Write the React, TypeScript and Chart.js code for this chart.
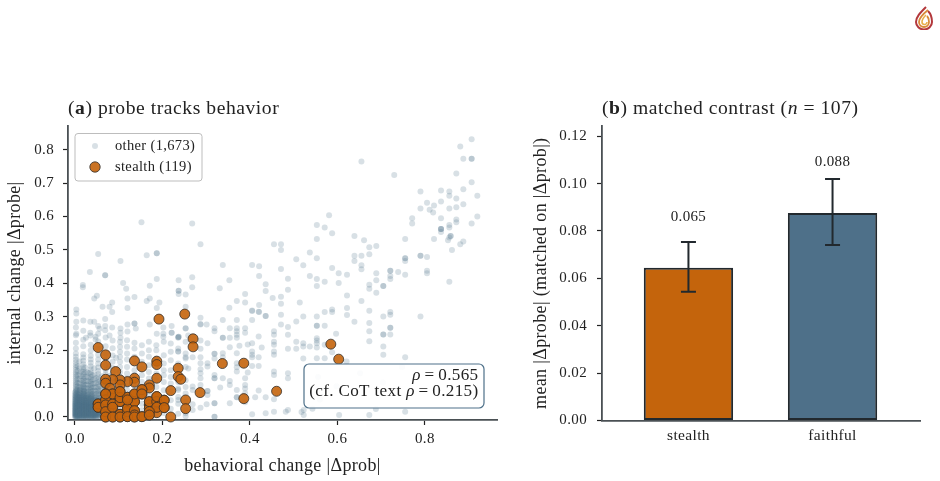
import React, { useEffect, useRef } from 'react';
import { Chart, registerables } from 'chart.js';

Chart.register(...registerables);

const SERIF = '"Liberation Serif", serif';
const INK = '#222222';
const SPINE = '#4a5054';
const STEEL = '#4e7089';
const RUST = '#c4640c';

// panel (a): points read one by one off the sparse part of the cloud
const otherSparse: [number, number][] = [
  [.907,.831],[.881,.810],[.888,.773],[.907,.773],[.907,.773],[.655,.765],[.730,.724],[.872,.729],[.907,.703],[.790,.675],
  [.837,.678],[.856,.675],[.856,.662],[.888,.682],[.920,.662],[.805,.641],[.837,.645],[.872,.654],[.821,.633],[.790,.624],
  [.811,.620],[.819,.612],[.856,.624],[.872,.628],[.888,.637],[.771,.595],[.771,.579],[.837,.595],[.920,.600],[.907,.579],
  [.872,.591],[.872,.583],[.856,.575],[.856,.567],[.837,.563],[.837,.563],[.837,.563],[.837,.554],[.581,.604],[.553,.575],
  [.571,.567],[.588,.550],[.553,.533],[.639,.542],[.661,.529],[.755,.533],[.821,.533],[.859,.542],[.859,.542],[.856,.537],
  [.853,.529],[.888,.525],[.881,.517],[.862,.500],[.673,.508],[.689,.512],[.537,.492],[.553,.475],[.639,.483],[.655,.483],
  [.673,.487],[.755,.475],[.755,.475],[.755,.467],[.790,.483],[.790,.483],[.805,.479],[.522,.454],[.639,.467],[.655,.454],
  [.655,.442],[.588,.446],[.721,.438],[.721,.438],[.739,.434],[.805,.438],[.805,.430],[.537,.422],[.553,.413],[.571,.405],
  [.553,.392],[.603,.430],[.622,.426],[.689,.430],[.721,.422],[.721,.413],[.755,.426],[.689,.409],[.673,.396],[.673,.384],
  [.705,.392],[.705,.392],[.603,.401],[.856,.405],[.689,.372],[.622,.364],[.655,.347],[.514,.343],[.622,.326],[.588,.322],
  [.588,.314],[.571,.314],[.673,.318],[.721,.314],[.721,.306],[.622,.305],[.522,.301],[.553,.301],[.705,.301],[.790,.301],
  [.152,.583],[.268,.579],[.287,.517],[.053,.488],[.164,.484],[.187,.490],[.187,.490],[.104,.467],[.034,.434],[.069,.424],
  [.069,.424],[.018,.395],[.018,.388],[.110,.401],[.117,.384],[.171,.393],[.187,.413],[.237,.409],[.268,.418],[.268,.388],
  [.237,.378],[.237,.378],[.237,.368],[.253,.367],[.050,.363],[.044,.355],[.120,.355],[.136,.359],[.171,.355],[.164,.347],
  [.193,.343],[.085,.343],[.063,.330],[.079,.330],[.120,.326],[.187,.326],[.253,.330],[.003,.322],[.003,.310],[.085,.314],
  [.003,.285],[.019,.289],[.035,.285],[.044,.285],[.069,.293],[.287,.297],[.136,.280],[.136,.280],[.053,.272],[.056,.264],
  [.069,.272],[.069,.260],[.085,.268],[.104,.265],[.104,.252],[.120,.277],[.120,.256],[.139,.265],[.171,.277],[.202,.268],
  [.221,.272],[.253,.265],[.287,.277],[.301,.277],[.003,.249],[.035,.252],[.035,.244],[.053,.249],[.025,.237],[.047,.240],
  [.047,.232],[.079,.244],[.104,.237],[.187,.249],[.202,.249],[.202,.240],[.221,.252],[.221,.252],[.237,.240],[.237,.240],
  [.259,.244],[.287,.278],[.338,.290],[.370,.290],[.405,.290],[.420,.315],[.405,.317],[.436,.302],[.471,.277],[.506,.286],
  [.487,.269],[.319,.266],[.319,.257],[.354,.266],[.370,.266],[.370,.257],[.370,.246],[.389,.266],[.389,.252],[.455,.257],
  [.455,.246],[.455,.225],[.455,.216],[.487,.246],[.420,.241],[.338,.237],[.338,.237],[.354,.237],[.370,.237],[.287,.229],
  [.303,.221],[.287,.204],[.236,.238],[.236,.238],[.253,.266],[.354,.209],[.395,.217],[.405,.221],[.427,.208],[.376,.213],
  [.455,.196],[.455,.186],[.487,.204],[.506,.225],[.506,.204],[.522,.221],[.522,.175],[.236,.196],[.236,.196],[.319,.189],
  [.319,.189],[.338,.191],[.338,.179],[.370,.191],[.405,.196],[.405,.186],[.405,.179],[.420,.179],[.253,.179],[.269,.179],
  [.287,.179],[.303,.161],[.287,.161],[.319,.175],[.319,.126],[.319,.116],[.319,.116],[.370,.161],[.370,.149],[.370,.136],
  [.405,.153],[.420,.153],[.395,.133],[.455,.136],[.455,.126],[.487,.131],[.487,.116],[.303,.151],[.259,.145],[.287,.143],
  [.287,.131],[.338,.116],[.354,.108],[.354,.096],[.389,.116],[.389,.096],[.269,.091],[.269,.081],[.287,.116],[.287,.096],
  [.303,.078],[.303,.078],[.303,.066],[.332,.088],[.370,.081],[.370,.059],[.370,.059],[.389,.085],[.389,.071],[.420,.079],
  [.436,.059],[.455,.053],[.412,.059],[.319,.041],[.319,.041],[.301,.038],[.354,.041],[.389,.044],[.487,.021],[.455,.016],
  [.287,.028],[.269,.038],[.269,.021],[.319,.001],[.319,.001],[.253,.011],[.253,.002],[.405,.008],[.436,.011],[.236,.081],
  [.236,.051],[.455,.517],[.471,.517],[.471,.500],[.506,.472],[.338,.455],[.405,.455],[.421,.451],[.471,.443],[.421,.422],
  [.353,.409],[.487,.414],[.436,.397],[.331,.385],[.436,.377],[.487,.381],[.389,.368],[.370,.347],[.389,.343],[.452,.356],
  [.471,.360],[.471,.339],[.421,.335],[.353,.327],[.405,.319],[.421,.314],[.436,.302],[.471,.306],[.639,.285],[.673,.281],
  [.553,.273],[.553,.273],[.571,.273],[.721,.267],[.721,.267],[.673,.257],[.705,.247],[.705,.247],[.721,.247],[.597,.249],
  [.553,.236],[.553,.229],[.553,.221],[.673,.227],[.571,.216],[.522,.211],[.537,.211],[.553,.208],[.705,.211],[.588,.194],
  [.705,.186],[.553,.176],[.571,.176],[.755,.179],[.621,.166],[.523,.021],[.523,.006],[.543,.025],[.604,.006],[.673,.006],
  [.755,.016],[.688,.024],[.482,.016],[.518,.015],[.556,.120],[.598,.092],[.652,.131],[.704,.103],[.748,.150],[.560,.052],
];

// the dense part of the cloud falls in columns of nearly equal x
const otherColumnX = [
  .002, .006, .010, .014, .019, .023, .027, .031, .036, .040, .044, .048, .053, .057, .061, .066, .070, .078, .086, .094,
  .103, .119, .136, .153, .169, .186, .203, .219, .236, .253,
];
const otherColumnY: number[][] = [
  [.000,.002,.004,.006,.008,.010,.012,.015,.017,.019,.021,.024,.026,.028,.031,.033,.035,.038,.041,.043,.046,.049,.052,.055,.058,.061,.064,.068,.072,.076,.080,.084,.089,.094,.099,.104,.110,.116,.122,.128,.134,.141,.148,.155,.163,.171,.180,.190,.205,.222,.245,.268],
  [.001,.005,.009,.013,.018,.022,.027,.032,.037,.042,.048,.054,.060,.067,.075,.083,.092,.102,.113,.125,.138,.152],
  [.001,.004,.007,.010,.013,.016,.020,.023,.027,.030,.034,.037,.041,.045,.050,.055,.060,.066,.073,.081,.090,.101,.114,.129,.146,.166],
  [.002,.006,.011,.015,.020,.025,.029,.034,.039,.044,.050,.056,.063,.071,.079,.088,.098,.109,.122,.136],
  [.000,.003,.005,.008,.011,.013,.016,.018,.021,.024,.026,.029,.032,.035,.037,.040,.043,.047,.051,.054,.058,.062,.066,.070,.075,.079,.083,.088,.093,.098,.103,.109,.115,.121,.128,.135,.142,.150,.158,.168,.178,.188,.212,.231,.258],
  [.001,.005,.010,.014,.019,.024,.028,.033,.038,.043,.049,.055,.062,.069,.077,.086,.096,.107,.119,.133,.148],
  [.002,.006,.009,.012,.016,.019,.023,.027,.031,.034,.038,.042,.047,.052,.057,.063,.070,.078,.087,.097,.108,.121,.135],
  [.003,.008,.012,.017,.022,.026,.031,.036,.041,.047,.053,.060,.068,.076,.085,.095,.106,.118,.132],
  [.001,.003,.006,.009,.012,.014,.017,.020,.023,.025,.028,.031,.034,.037,.041,.044,.048,.052,.056,.060,.064,.069,.074,.079,.084,.089,.095,.101,.107,.113,.120,.127,.134,.143,.152,.162,.172,.183,.199,.216],
  [.002,.007,.012,.016,.021,.026,.031,.036,.042,.048,.054,.061,.069,.078,.088,.099,.111,.125],
  [.003,.007,.011,.015,.019,.024,.028,.033,.038,.043,.049,.055,.062,.070,.079,.089,.100,.113,.128,.146],
  [.001,.006,.011,.016,.021,.026,.032,.038,.044,.051,.059,.068,.078,.089,.102,.117],
  [.002,.005,.008,.011,.014,.018,.021,.025,.028,.032,.036,.040,.044,.049,.054,.059,.065,.071,.077,.083,.090,.097,.104,.112,.120,.129,.138,.148,.160,.172,.186,.204,.226],
  [.002,.008,.014,.020,.026,.033,.040,.048,.057,.067,.079,.092,.107],
  [.004,.010,.016,.023,.030,.038,.047,.058,.071,.086,.103,.122],
  [.001,.009,.017,.026,.036,.047,.060,.075,.092,.111],
  [.003,.008,.013,.019,.025,.031,.038,.045,.052,.060,.068,.077,.086,.095,.105,.116,.128,.141,.156,.172,.190,.212,.238],
  [.005,.015,.027,.041,.057,.076,.098,.123,.151],
  [.004,.011,.019,.027,.036,.046,.056,.067,.078,.090,.103,.116,.131,.147,.165,.184,.206,.229],
  [.008,.022,.039,.059,.083,.110,.141,.177],
  [.012,.030,.050,.070,.085,.100,.120,.135,.150,.165,.180,.195,.210,.225],
  [.010,.028,.045,.065,.080,.095,.115,.130,.150,.172,.190,.210,.230],
  [.015,.035,.055,.075,.095,.125,.140,.160,.180,.205,.222],
  [.020,.040,.060,.085,.105,.125,.145,.165,.190,.215],
  [.010,.030,.050,.070,.090,.115,.135,.155,.180,.200,.225],
  [.020,.040,.065,.090,.110,.130,.150,.175,.200,.215],
  [.012,.035,.060,.080,.105,.125,.140,.160,.185,.225],
  [.025,.050,.075,.100,.120,.140,.170,.195,.220],
  [.010,.040,.060,.085,.105,.130,.160,.205],
  [.020,.045,.070,.090,.110,.150,.175,.190,.225],
];

// second layer over the darkest corner, where the cloud is close to solid
const otherCoreX = [.000, .004, .008, .012, .016, .021, .025, .029, .033, .038, .042, .046, .050];
const otherCoreY: number[][] = [
  [.001,.004,.008,.011,.015,.019,.022,.026,.030,.034,.038,.042,.047,.052,.058,.065,.073],
  [.000,.003,.006,.010,.013,.017,.021,.024,.028,.032,.036,.040,.044,.049,.055,.062,.070,.079],
  [.002,.005,.009,.012,.016,.020,.023,.027,.031,.035,.039,.043,.048,.053,.059,.067],
  [.001,.004,.007,.011,.014,.018,.022,.025,.029,.033,.037,.041,.046,.051,.057,.064,.072,.083],
  [.000,.003,.006,.009,.013,.017,.020,.024,.028,.032,.036,.040,.045,.050,.056,.063],
  [.002,.005,.008,.012,.015,.019,.023,.026,.030,.034,.038,.042,.047,.053,.060,.068,.077],
  [.001,.004,.007,.011,.014,.018,.021,.025,.029,.033,.037,.041,.046,.052,.058],
  [.000,.003,.006,.010,.013,.017,.020,.024,.028,.032,.036,.041,.046,.052,.059,.067],
  [.002,.005,.008,.012,.015,.019,.022,.026,.030,.034,.039,.044,.050,.056],
  [.001,.004,.007,.011,.014,.018,.021,.025,.029,.033,.038,.043,.049,.056,.064],
  [.000,.003,.006,.010,.013,.017,.021,.025,.029,.034,.039,.045,.051],
  [.002,.005,.009,.013,.016,.020,.024,.028,.033,.038,.044,.051],
  [.001,.004,.008,.012,.016,.020,.025,.030,.035,.041,.048],
];

const stealthPoints: [number, number][] = [
  [.192,.293],[.251,.308],[.270,.234],[.270,.210],[.585,.218],[.603,.173],[.053,.208],[.070,.186],[.070,.155],[.093,.136],
  [.136,.168],[.153,.150],[.187,.167],[.187,.157],[.236,.146],[.236,.121],[.242,.113],[.337,.160],[.386,.161],[.461,.077],
  [.386,.055],[.286,.073],[.219,.079],[.253,.051],[.253,.025],[.219,.000],[.187,.116],[.170,.096],[.170,.087],[.153,.082],
  [.153,.069],[.136,.116],[.136,.104],[.120,.106],[.103,.111],[.103,.096],[.086,.112],[.070,.113],[.070,.101],[.080,.086],
  [.070,.069],[.086,.069],[.086,.056],[.103,.076],[.103,.058],[.120,.059],[.120,.051],[.136,.069],[.136,.046],[.070,.051],
  [.053,.039],[.053,.029],[.070,.036],[.070,.016],[.086,.039],[.086,.029],[.103,.046],[.077,.017],[.120,.026],[.120,.016],
  [.136,.019],[.136,.006],[.170,.046],[.170,.036],[.170,.026],[.170,.016],[.170,.006],[.187,.061],[.187,.046],[.187,.029],
  [.187,.013],[.204,.050],[.204,.028],[.103,.008],[.103,.000],[.086,.000],[.070,.000],[.120,.001],[.136,.000],[.153,.001],
  [.053,.039],[.053,.029],[.070,.051],[.070,.036],[.086,.039],[.086,.069],[.103,.046],[.103,.058],[.103,.008],[.120,.059],
  [.120,.016],[.120,.026],[.136,.046],[.136,.019],[.136,.069],[.153,.082],[.153,.069],[.170,.036],[.170,.026],[.170,.046],
  [.187,.046],[.187,.029],[.070,.069],[.070,.016],[.086,.029],[.103,.076],[.120,.051],[.136,.006],[.170,.016],[.187,.061],
  [.204,.050],[.204,.028],[.070,.000],[.086,.000],[.103,.000],[.120,.001],[.136,.000],[.153,.001],[.170,.006],
];

const legendLabels = ['other (1,673)', 'stealth (119)'];
const xTicksA = [0, 0.2, 0.4, 0.6, 0.8];
const yTicksA = [0, 0.1, 0.2, 0.3, 0.4, 0.5, 0.6, 0.7, 0.8];

// panel (b)
const barLabels = ['stealth', 'faithful'];
const barValues = [0.0645, 0.0876];
const barErrLow = [0.0543, 0.0741];
const barErrHigh = [0.0753, 0.1019];
const barNotes = ['0.065', '0.088'];
const barNoteGap = 0.0198;
const yTicksB = [0, 0.02, 0.04, 0.06, 0.08, 0.1, 0.12];

type Run = { text: string; bold?: boolean; italic?: boolean };

function fontOf(run: Run, size: number) {
  return `${run.italic ? 'italic ' : ''}${run.bold ? 'bold ' : ''}${size}px ${SERIF}`;
}

function runsWidth(ctx: CanvasRenderingContext2D, runs: Run[], size: number) {
  let w = 0;
  for (const r of runs) {
    ctx.font = fontOf(r, size);
    w += ctx.measureText(r.text).width;
  }
  return w;
}

function drawRuns(ctx: CanvasRenderingContext2D, runs: Run[], x: number, y: number, size: number) {
  ctx.textAlign = 'left';
  ctx.textBaseline = 'alphabetic';
  for (const r of runs) {
    ctx.font = fontOf(r, size);
    ctx.fillText(r.text, x, y);
    x += ctx.measureText(r.text).width;
  }
}

function roundBox(ctx: CanvasRenderingContext2D, x: number, y: number, w: number, h: number, r: number) {
  ctx.beginPath();
  ctx.roundRect(x, y, w, h, r);
}

const spacingPlugin = {
  id: 'spacing',
  beforeDraw(chart: any) {
    chart.ctx.letterSpacing = '0.35px';
  },
};

function titlePlugin(runs: Run[]) {
  return {
    id: 'panelTitle',
    afterDraw(chart: any) {
      const { ctx, chartArea } = chart;
      ctx.save();
      ctx.fillStyle = INK;
      ctx.letterSpacing = '0.55px';
      drawRuns(ctx, runs, chartArea.left, 114, 19.6);
      ctx.restore();
    },
  };
}

const scatterExtras = {
  id: 'scatterExtras',
  afterDatasetsDraw(chart: any) {
    const ctx: CanvasRenderingContext2D = chart.ctx;
    ctx.save();
    // legend box
    ctx.fillStyle = 'rgba(255,255,255,0.85)';
    ctx.strokeStyle = '#bdbdbd';
    ctx.lineWidth = 1;
    roundBox(ctx, 75, 133.5, 127, 47.5, 3);
    ctx.fill();
    ctx.stroke();
    ctx.beginPath();
    ctx.arc(95, 146, 3, 0, Math.PI * 2);
    ctx.fillStyle = 'rgba(78,112,137,0.22)';
    ctx.fill();
    ctx.beginPath();
    ctx.arc(95, 167, 5.2, 0, Math.PI * 2);
    ctx.fillStyle = 'rgba(196,100,12,0.9)';
    ctx.fill();
    ctx.strokeStyle = '#33302c';
    ctx.lineWidth = 0.8;
    ctx.stroke();
    ctx.fillStyle = INK;
    ctx.font = `14.5px ${SERIF}`;
    ctx.textAlign = 'left';
    ctx.textBaseline = 'alphabetic';
    ctx.fillText(legendLabels[0], 115, 150);
    ctx.fillText(legendLabels[1], 115, 171);
    // annotation box
    ctx.fillStyle = 'rgba(255,255,255,0.9)';
    ctx.strokeStyle = STEEL;
    ctx.lineWidth = 1.2;
    roundBox(ctx, 304, 364, 180, 44, 5);
    ctx.fill();
    ctx.stroke();
    ctx.fillStyle = INK;
    const line1: Run[] = [{ text: 'ρ', italic: true }, { text: '\u2009=\u20090.565' }];
    const line2: Run[] = [{ text: '(cf. CoT text ' }, { text: 'ρ', italic: true }, { text: '\u2009=\u20090.215)' }];
    drawRuns(ctx, line1, 478.5 - runsWidth(ctx, line1, 17.1), 380, 17.1);
    drawRuns(ctx, line2, 478.5 - runsWidth(ctx, line2, 17.1), 396, 17.1);
    ctx.restore();
  },
};

const barExtras = {
  id: 'barExtras',
  afterDatasetsDraw(chart: any) {
    const { ctx, scales } = chart;
    ctx.save();
    ctx.strokeStyle = '#22292e';
    ctx.lineWidth = 2;
    ctx.fillStyle = INK;
    ctx.font = `15px ${SERIF}`;
    ctx.textAlign = 'center';
    ctx.textBaseline = 'alphabetic';
    barLabels.forEach((_, i) => {
      const x = scales.x.getPixelForValue(i);
      const lo = scales.y.getPixelForValue(barErrLow[i]);
      const hi = scales.y.getPixelForValue(barErrHigh[i]);
      ctx.beginPath();
      ctx.moveTo(x, lo);
      ctx.lineTo(x, hi);
      ctx.moveTo(x - 7.5, lo);
      ctx.lineTo(x + 7.5, lo);
      ctx.moveTo(x - 7.5, hi);
      ctx.lineTo(x + 7.5, hi);
      ctx.stroke();
      ctx.fillText(barNotes[i], x, scales.y.getPixelForValue(barValues[i] + barNoteGap));
    });
    ctx.restore();
  },
};

function axisBase(tickLength: number) {
  return {
    border: { display: true, color: SPINE, width: 1.8 },
    grid: { drawOnChartArea: false, drawTicks: tickLength > 0, tickLength, tickColor: '#222222', tickWidth: 1.2 },
  };
}

const ScatterPanel: React.FC = () => {
  const canvasRef = useRef<HTMLCanvasElement | null>(null);

  useEffect(() => {
    const ctx = canvasRef.current?.getContext('2d');
    if (!ctx) return;

    const otherData = otherSparse.map(([x, y]) => ({ x, y }));
    otherColumnX.forEach((x, i) => {
      otherColumnY[i].forEach((y) => otherData.push({ x, y }));
    });
    otherCoreX.forEach((x, i) => {
      otherCoreY[i].forEach((y) => otherData.push({ x, y }));
    });

    const chart = new Chart(ctx, {
      type: 'scatter',
      data: {
        datasets: [
          {
            label: 'other',
            data: otherData,
            order: 2,
            pointRadius: 3,
            pointBorderWidth: 0,
            pointBackgroundColor: 'rgba(78,112,137,0.22)',
            clip: false,
          },
          {
            label: 'stealth',
            data: stealthPoints.map(([x, y]) => ({ x, y })),
            order: 1,
            pointRadius: 5,
            pointBorderWidth: 0.8,
            pointBorderColor: '#33302c',
            pointBackgroundColor: 'rgba(196,100,12,0.9)',
            clip: false,
          },
        ],
      },
      options: {
        animation: false,
        responsive: false,
        devicePixelRatio: 1,
        layout: { padding: { top: 126, right: 13 } },
        plugins: { legend: { display: false }, tooltip: { enabled: false } },
        scales: {
          x: {
            type: 'linear',
            min: -0.016,
            max: 0.965,
            ...axisBase(5),
            afterBuildTicks: (s: any) => { s.ticks = xTicksA.map((value) => ({ value })); },
            afterFit: (s: any) => { s.height = 61; },
            ticks: { color: INK, font: { family: SERIF, size: 15 }, padding: 5, maxRotation: 0, callback: (v: any) => Number(v).toFixed(1) },
            title: { display: true, text: 'behavioral change |Δprob|', color: INK, font: { family: SERIF, size: 18 }, padding: { top: 0, bottom: 4 } },
          },
          y: {
            type: 'linear',
            min: -0.009,
            max: 0.871,
            ...axisBase(5),
            afterBuildTicks: (s: any) => { s.ticks = yTicksA.map((value) => ({ value })); },
            afterFit: (s: any) => { s.width = 68; },
            ticks: { color: INK, font: { family: SERIF, size: 15 }, padding: 9, callback: (v: any) => Number(v).toFixed(1) },
            title: { display: true, text: 'internal change |Δprobe|', color: INK, font: { family: SERIF, size: 18 }, padding: { top: 4, bottom: 0 } },
          },
        },
      },
      plugins: [
        spacingPlugin,
        scatterExtras,
        titlePlugin([{ text: '(' }, { text: 'a', bold: true }, { text: ') probe tracks behavior' }]),
      ],
    } as any);

    return () => {
      chart.destroy();
    };
  }, []);

  return <canvas ref={canvasRef} width={510} height={481} style={{ position: 'absolute', left: 0, top: 0 }}></canvas>;
};

const BarPanel: React.FC = () => {
  const canvasRef = useRef<HTMLCanvasElement | null>(null);

  useEffect(() => {
    const ctx = canvasRef.current?.getContext('2d');
    if (!ctx) return;

    const chart = new Chart(ctx, {
      type: 'bar',
      data: {
        datasets: [
          {
            data: barValues.map((y, x) => ({ x, y })),
            backgroundColor: [RUST, STEEL],
            borderColor: '#22292e',
            borderWidth: 2,
            borderSkipped: false,
            barPercentage: 0.62,
            categoryPercentage: 1,
          },
        ],
      },
      options: {
        animation: false,
        responsive: false,
        devicePixelRatio: 1,
        layout: { padding: { top: 126, right: 20 } },
        plugins: { legend: { display: false }, tooltip: { enabled: false } },
        scales: {
          x: {
            type: 'linear',
            offset: false,
            min: -0.6,
            max: 1.607,
            ...axisBase(0),
            afterBuildTicks: (s: any) => { s.ticks = barLabels.map((_, value) => ({ value })); },
            afterFit: (s: any) => { s.height = 60.5; },
            ticks: { color: INK, font: { family: SERIF, size: 15.5 }, padding: 6, maxRotation: 0, callback: (v: any) => barLabels[Number(v)] },
          },
          y: {
            type: 'linear',
            min: 0,
            max: 0.1243,
            ...axisBase(5),
            afterBuildTicks: (s: any) => { s.ticks = yTicksB.map((value) => ({ value })); },
            afterFit: (s: any) => { s.width = 82; },
            ticks: { color: INK, font: { family: SERIF, size: 15 }, padding: 10, callback: (v: any) => Number(v).toFixed(2) },
            title: { display: true, text: 'mean |Δprobe| (matched on |Δprob|)', color: INK, font: { family: SERIF, size: 18 }, padding: { top: 10, bottom: 0 } },
          },
        },
      },
      plugins: [
        spacingPlugin,
        barExtras,
        titlePlugin([
          { text: '(' }, { text: 'b', bold: true }, { text: ') matched contrast (' },
          { text: 'n', italic: true }, { text: ' = 107)' },
        ]),
      ],
    } as any);

    return () => {
      chart.destroy();
    };
  }, []);

  return <canvas ref={canvasRef} width={420} height={481} style={{ position: 'absolute', left: 520, top: 0 }}></canvas>;
};

const Logo: React.FC = () => (
  <svg width="20" height="26" viewBox="0 0 20 26" style={{ position: 'absolute', left: 914, top: 4 }} aria-hidden="true">
    <path d="M12 3 C6 9 2 13 2 18 a8 7.5 0 0 0 16 0 C18 13 16 9 14 7" fill="none" stroke="#b3383c" strokeWidth="2" />
    <path d="M14 6 C9 10 5 14 5 18 a5 5 0 0 0 10 0 C15 15 14 13 13 12" fill="none" stroke="#d98a3a" strokeWidth="1.8" />
    <path d="M12 11 C10 13 8 15 8 18 a2.4 2.4 0 0 0 5 0" fill="none" stroke="#e8b04a" strokeWidth="1.6" />
  </svg>
);

export default function App() {
  return (
    <div style={{ position: 'absolute', left: 0, top: 0, width: 940, height: 481, overflow: 'hidden', background: '#ffffff' }}>
      <ScatterPanel />
      <BarPanel />
      <Logo />
    </div>
  );
}
